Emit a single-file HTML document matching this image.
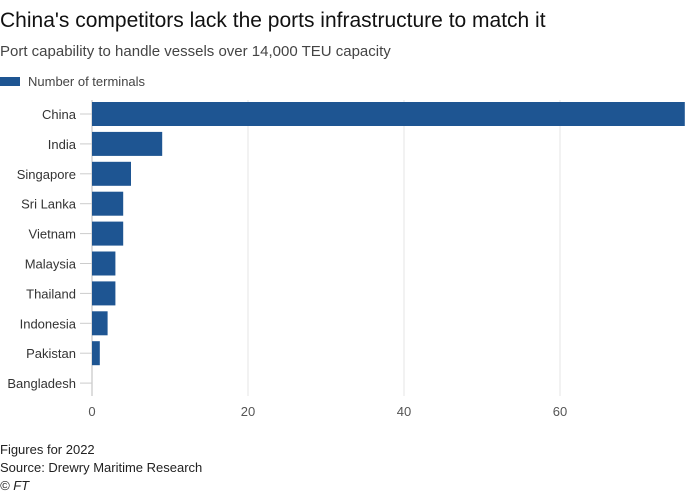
<!DOCTYPE html>
<html><head><meta charset="utf-8"><style>
body{margin:0;background:#fff;font-family:"Liberation Sans",sans-serif;}
svg text{font-family:"Liberation Sans",sans-serif;}
</style></head><body>
<svg id="chart" width="700" height="493" xmlns="http://www.w3.org/2000/svg">
<text x="0" y="27" font-size="21" fill="#111">China's competitors lack the ports infrastructure to match it</text>
<text x="0" y="56" font-size="15" fill="#444">Port capability to handle vessels over 14,000 TEU capacity</text>
<rect x="0" y="77" width="20" height="9" fill="#1e5592"/>
<text x="28" y="86" font-size="13" fill="#444">Number of terminals</text>
<g id="grid"></g><g id="bars"></g><g id="labels"></g>
<text x="0" y="454" font-size="13" fill="#222">Figures for 2022</text>
<text x="0" y="472" font-size="13" fill="#222">Source: Drewry Maritime Research</text>
<text x="0" y="490" font-size="13" fill="#222" font-style="italic">© FT</text>
</svg>
<script>
const categories=["China","India","Singapore","Sri Lanka","Vietnam","Malaysia","Thailand","Indonesia","Pakistan","Bangladesh"];
const values=[76,9,5,4,4,3,3,2,1,0];
const ticks=[0,20,40,60];
const NS="http://www.w3.org/2000/svg";
const x0=92,pxPer=7.8,y0=114,step=29.9,bh=24;
const xs=v=>x0+v*pxPer, ys=i=>y0+i*step;
function mk(t,a,p){const e=document.createElementNS(NS,t);for(const k in a)e.setAttribute(k,a[k]);p.appendChild(e);return e;}
const g=document.getElementById('grid'),b=document.getElementById('bars'),l=document.getElementById('labels');
ticks.forEach(t=>{
 const ln=mk('line',{x1:xs(t),x2:xs(t),y1:100,y2:396,stroke:t===0?'#bbb':'#e6e6e6','stroke-width':1},g);
 
 
 const tx=mk('text',{x:xs(t),y:416,'font-size':13,fill:'#555','text-anchor':'middle'},l);
 tx.textContent=t;
 
 
});
categories.forEach((c,i)=>{
 const tk=mk('line',{x1:80,x2:92,y1:ys(i),y2:ys(i),stroke:'#ccc'},g);
 
 
 const r=mk('rect',{x:x0,y:ys(i)-bh/2,width:Math.max(0,xs(values[i])-x0),height:bh,fill:'#1e5592'},b);
 
 
 const t=mk('text',{x:76,y:ys(i)+5,'font-size':13,fill:'#333','text-anchor':'end'},l);
 t.textContent=c;
 
 
});
</script>
</body></html>
